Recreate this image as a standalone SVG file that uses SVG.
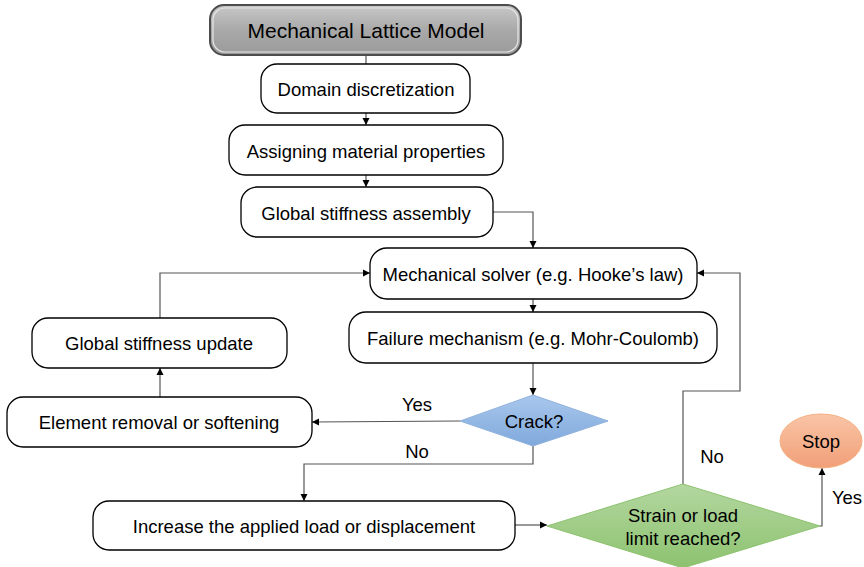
<svg xmlns="http://www.w3.org/2000/svg" width="864" height="567" viewBox="0 0 864 567">
<defs>
<linearGradient id="gTitle" x1="0" y1="0" x2="0" y2="1">
<stop offset="0" stop-color="#c8c8c8"/><stop offset="0.5" stop-color="#a9a9a9"/><stop offset="1" stop-color="#9a9a9a"/>
</linearGradient>
<linearGradient id="gBlue" x1="0" y1="0" x2="0" y2="1">
<stop offset="0" stop-color="#a9c7ec"/><stop offset="1" stop-color="#7fa9dc"/>
</linearGradient>
<linearGradient id="gGreen" x1="0" y1="0" x2="0" y2="1">
<stop offset="0" stop-color="#b3d7a0"/><stop offset="1" stop-color="#8dc26f"/>
</linearGradient>
<linearGradient id="gOrange" x1="0" y1="0" x2="0" y2="1">
<stop offset="0" stop-color="#f9c5a6"/><stop offset="1" stop-color="#f19f78"/>
</linearGradient>
<marker id="arr" markerWidth="8" markerHeight="8" refX="7" refY="4" orient="auto" markerUnits="userSpaceOnUse">
<path d="M0,0.5 L7,4 L0,7.5 Z" fill="#000"/>
</marker>
<style>
.box{fill:#fff;stroke:#000;stroke-width:1.3}
.t{font-family:"Liberation Sans",Arial,sans-serif;font-size:18.5px;fill:#000;text-anchor:middle;dominant-baseline:central}
.c{fill:none;stroke:#555;stroke-width:1.2}
.ca{fill:none;stroke:#555;stroke-width:1.2;marker-end:url(#arr)}
</style>
</defs>
<g id="connectors">
<path class="c" d="M366,55 V64"/>
<path class="ca" d="M366,113 V125"/>
<path class="ca" d="M366,175 V187"/>
<path class="ca" d="M493,212 H533 V248"/>
<path class="ca" d="M533,299 V312"/>
<path class="ca" d="M533,363 V395"/>
<path class="ca" d="M160,318 V273 H370"/>
<path class="ca" d="M160,397 V368"/>
<path class="ca" d="M460,421 L312,422"/>
<path class="ca" d="M533,446 V464 H304 V501"/>
<path class="ca" d="M515,525 H547"/>
<path class="ca" d="M683,484 V391 H740 V273 H697"/>
<path class="ca" d="M820,526 H822 V468"/>
</g>
<g id="title">
<rect x="210" y="5" width="311" height="50" rx="14" fill="url(#gTitle)" stroke="#4d4d4d" stroke-width="2"/>
<rect x="213" y="8" width="305" height="44" rx="12" fill="none" stroke="#e6e6e6" stroke-width="1.2"/>
<text class="t" x="366" y="30" style="font-size:21px">Mechanical Lattice Model</text>
</g>
<g id="domain">
<rect class="box" x="261" y="64" width="209" height="49" rx="16"/>
<text class="t" x="366" y="89">Domain discretization</text>
</g>
<g id="assign">
<rect class="box" x="229" y="125" width="274" height="50" rx="16"/>
<text class="t" x="366" y="151">Assigning material properties</text>
</g>
<g id="assembly">
<rect class="box" x="241" y="187" width="252" height="50" rx="16"/>
<text class="t" x="366" y="213">Global stiffness assembly</text>
</g>
<g id="solver">
<rect class="box" x="370" y="248" width="327" height="51" rx="17"/>
<text class="t" x="533" y="274">Mechanical solver (e.g. Hooke’s law)</text>
</g>
<g id="failure">
<rect class="box" x="349" y="312" width="368" height="51" rx="17"/>
<text class="t" x="533" y="338">Failure mechanism (e.g. Mohr-Coulomb)</text>
</g>
<g id="update">
<rect class="box" x="32" y="318" width="255" height="50" rx="16"/>
<text class="t" x="159" y="343">Global stiffness update</text>
</g>
<g id="removal">
<rect class="box" x="7" y="397" width="305" height="50" rx="16"/>
<text class="t" x="159" y="422">Element removal or softening</text>
</g>
<g id="crack">
<path d="M533,395 L608,421 L533,446 L460,421 Z" fill="url(#gBlue)" stroke="#8fb2dc" stroke-width="1"/>
<text class="t" x="534" y="421">Crack?</text>
</g>
<g id="increase">
<rect class="box" x="93" y="501" width="422" height="49" rx="16"/>
<text class="t" x="304" y="526">Increase the applied load or displacement</text>
</g>
<g id="limit">
<path d="M683,484 L820,526 L683,568 L547,526 Z" fill="url(#gGreen)" stroke="#8dc26f" stroke-width="1"/>
<text class="t" x="683" y="515">Strain or load</text>
<text class="t" x="683" y="538">limit reached?</text>
</g>
<g id="stop">
<ellipse cx="821" cy="441" rx="41" ry="27" fill="url(#gOrange)" stroke="#f4b183" stroke-width="1"/>
<text class="t" x="821" y="441">Stop</text>
</g>
<g id="labels">
<text class="t" x="417" y="404">Yes</text>
<text class="t" x="417" y="451">No</text>
<text class="t" x="712" y="456">No</text>
<text class="t" x="847" y="497">Yes</text>
</g>
</svg>
